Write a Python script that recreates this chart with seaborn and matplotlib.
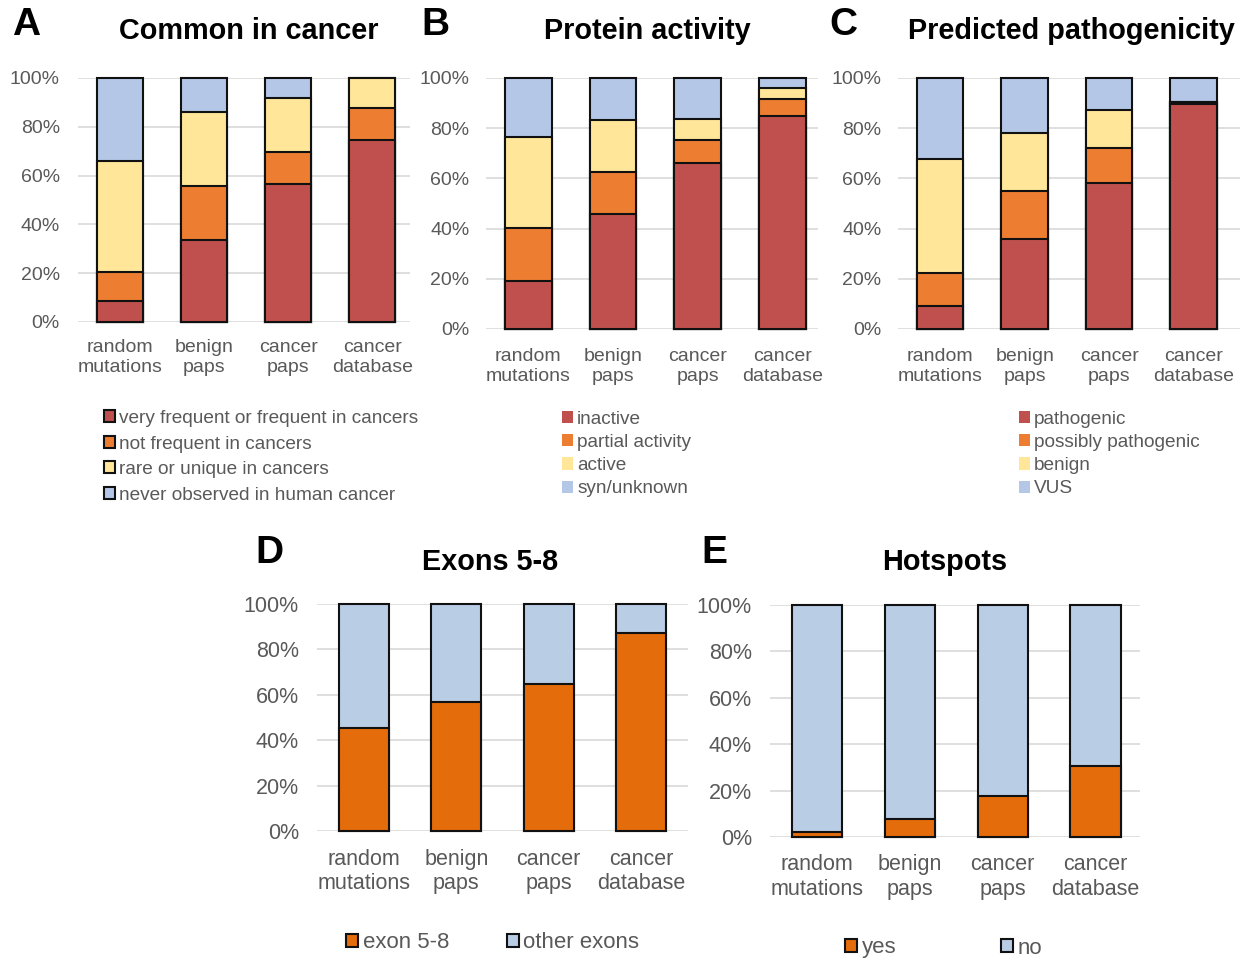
import matplotlib
matplotlib.use("Agg")
import matplotlib.pyplot as plt
import seaborn as sns
import numpy as np
from matplotlib.patches import Patch
from matplotlib.ticker import FuncFormatter

sns.set_theme(style="white")
plt.rcParams['font.family'] = ['Liberation Sans', 'DejaVu Sans']

categories = ["random\nmutations", "benign\npaps", "cancer\npaps", "cancer\ndatabase"]

# Panel A: Common in cancer
a_labels = ["very frequent or frequent in cancers", "not frequent in cancers",
            "rare or unique in cancers", "never observed in human cancer"]
a_very_frequent = [8.6, 33.8, 56.6, 74.7]
a_not_frequent = [11.8, 22.1, 12.9, 13.0]
a_rare = [45.4, 30.1, 22.3, 12.3]
a_never = [34.2, 14.0, 8.2, 0.0]

# Panel B: Protein activity
b_labels = ["inactive", "partial activity", "active", "syn/unknown"]
b_inactive = [19.3, 45.7, 66.1, 84.9]
b_partial = [21.1, 16.9, 9.1, 6.9]
b_active = [36.0, 20.6, 8.4, 4.2]
b_unknown = [23.6, 16.8, 16.4, 4.0]

# Panel C: Predicted pathogenicity
c_labels = ["pathogenic", "possibly pathogenic", "benign", "VUS"]
c_pathogenic = [9.0, 35.9, 58.3, 89.8]
c_possibly = [13.3, 18.9, 14.0, 0.5]
c_benign = [45.5, 23.3, 14.9, 0.0]
c_vus = [32.2, 21.9, 12.8, 9.7]

# Panel D: Exons 5-8
d_labels = ["exon 5-8", "other exons"]
d_exon58 = [45.4, 56.9, 64.6, 87.1]
d_other = [54.6, 43.1, 35.4, 12.9]

# Panel E: Hotspots
e_labels = ["yes", "no"]
e_yes = [2.2, 7.6, 17.7, 30.5]
e_no = [97.8, 92.4, 82.3, 69.5]

four_colors = ["#C0504D", "#ED7D31", "#FFE699", "#B4C7E7"]
two_colors = ["#E46C0A", "#B9CDE5"]
TEXT_GRAY = "#595959"

W, H = 1256, 958
fig = plt.figure(figsize=(W / 100, H / 100), dpi=100)


def rect(left, right, top, bottom):
    return [left / W, 1 - bottom / H, (right - left) / W, (bottom - top) / H]


def stacked(ax, series, colors, width, xlim, fs, pad, linesp):
    cum = np.cumsum(np.array(series, dtype=float), axis=0)
    for i in range(len(series) - 1, -1, -1):
        sns.barplot(x=categories, y=cum[i], color=colors[i], width=width,
                    edgecolor="#111111", linewidth=1.5, saturation=1, ax=ax)
    for p in ax.patches:
        p.set_clip_on(False)
    ax.set_ylim(0, 100)
    ax.set_xlim(*xlim)
    ax.set_yticks(range(0, 101, 20))
    ax.yaxis.set_major_formatter(FuncFormatter(lambda v, _: f"{int(v)}%"))
    ax.grid(axis="y", color="#D9D9D9", linewidth=1.2)
    ax.grid(axis="x", visible=False)
    ax.set_axisbelow(True)
    for s in ax.spines.values():
        s.set_visible(False)
    ax.tick_params(axis="both", length=0, labelsize=fs, labelcolor=TEXT_GRAY)
    ax.tick_params(axis="y", pad=pad[0])
    ax.tick_params(axis="x", pad=pad[1])
    for t in ax.get_xticklabels():
        t.set_linespacing(linesp)
    ax.set_xlabel("")
    ax.set_ylabel("")


axA = fig.add_axes(rect(78, 410, 78, 322))
stacked(axA, [a_very_frequent, a_not_frequent, a_rare, a_never], four_colors,
        0.55, (-0.5, 3.45), 14, (13, 12.5), 1.22)
axB = fig.add_axes(rect(486, 818, 78, 329))
stacked(axB, [b_inactive, b_partial, b_active, b_unknown], four_colors,
        0.55, (-0.5, 3.42), 14, (12, 13.5), 1.22)
axC = fig.add_axes(rect(898, 1240, 78, 329))
stacked(axC, [c_pathogenic, c_possibly, c_benign, c_vus], four_colors,
        0.55, (-0.5, 3.55), 14, (12, 13.5), 1.22)
axD = fig.add_axes(rect(317, 688, 604, 831))
stacked(axD, [d_exon58, d_other], two_colors,
        0.54, (-0.51, 3.51), 15.5, (13, 13), 1.2)
axE = fig.add_axes(rect(770, 1140, 605, 837))
stacked(axE, [e_yes, e_no], two_colors,
        0.54, (-0.51, 3.48), 15.5, (13, 12.5), 1.2)

# Titles and panel letters
def ftext(x, y, s, size, **kw):
    fig.text(x / W, 1 - y / H, s, fontsize=size, fontweight="bold",
             ha=kw.pop("ha", "center"), va="center", color="black", **kw)

ftext(26, 25, "A", 28)
ftext(249, 31, "Common in cancer", 20.8)
ftext(435, 25, "B", 28)
ftext(647, 31, "Protein activity", 20.8)
ftext(843, 25, "C", 28)
ftext(1071, 31, "Predicted pathogenicity", 20.8)
ftext(269, 553, "D", 28)
ftext(490, 562, "Exons 5-8", 20.8)
ftext(714, 553, "E", 28)
ftext(945, 562, "Hotspots", 20.8)

# Legends
def vlegend(labels, colors, x, y, edge, spacing):
    handles = [Patch(facecolor=c, edgecolor="#111111" if edge else c,
                     linewidth=1.5 if edge else 0) for c in colors]
    leg = fig.legend(handles, labels, loc="upper left",
                     bbox_to_anchor=(x / W, 1 - y / H), frameon=False,
                     fontsize=13.7, handlelength=0.6, handleheight=0.6,
                     handletextpad=0.2, labelspacing=spacing, borderpad=0,
                     borderaxespad=0)
    for t in leg.get_texts():
        t.set_color(TEXT_GRAY)
    return leg

vlegend(a_labels, four_colors, 104, 410, True, 0.45)
vlegend(b_labels, four_colors, 562, 411, False, 0.32)
vlegend(c_labels, four_colors, 1019, 411, False, 0.32)


def hlegend(labels, colors, x, y, colsp):
    handles = [Patch(facecolor=c, edgecolor="#111111", linewidth=1.5) for c in colors]
    leg = fig.legend(handles, labels, loc="center left",
                     bbox_to_anchor=(x / W, 1 - y / H), frameon=False, ncol=2,
                     fontsize=16, handlelength=0.55, handleheight=0.55,
                     handletextpad=0.2, columnspacing=colsp, borderpad=0,
                     borderaxespad=0)
    for t in leg.get_texts():
        t.set_color(TEXT_GRAY)
    return leg

hlegend(d_labels, two_colors, 346, 943, 2.6)
hlegend(e_labels, two_colors, 845, 948, 4.7)

fig.savefig("out.png", dpi=100)
